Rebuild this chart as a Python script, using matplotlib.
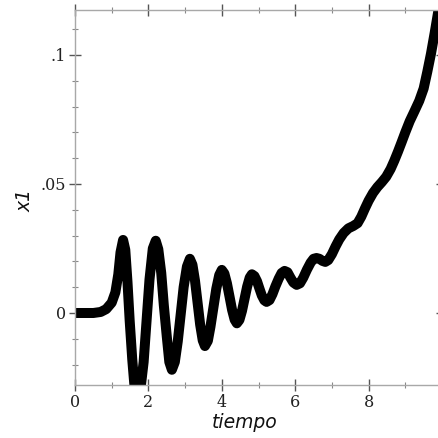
import matplotlib
matplotlib.use("Agg")
import matplotlib.pyplot as plt
from matplotlib.ticker import MultipleLocator

# datos: tiempo vs x1
tiempo = [0.0, 0.5, 0.7, 0.85, 1.0, 1.1, 1.18, 1.24, 1.31, 1.37, 1.43,
          1.49, 1.56, 1.63, 1.7, 1.78, 1.87, 1.95, 2.03, 2.12, 2.2, 2.27,
          2.35, 2.42, 2.5, 2.57, 2.64, 2.72, 2.8, 2.88, 2.96, 3.05, 3.13,
          3.2, 3.27, 3.34, 3.41, 3.48, 3.54, 3.62, 3.69, 3.77, 3.85, 3.93,
          4.0, 4.07, 4.14, 4.21, 4.28, 4.35, 4.41, 4.48, 4.55, 4.62, 4.69,
          4.76, 4.82, 4.89, 4.96, 5.02, 5.09, 5.16, 5.22, 5.3, 5.38, 5.46,
          5.55, 5.63, 5.71, 5.79, 5.87, 5.95, 6.04, 6.13, 6.22, 6.32, 6.42,
          6.5, 6.58, 6.66, 6.74, 6.82, 6.9, 7.0, 7.1, 7.2, 7.32, 7.45, 7.58,
          7.7, 7.8, 7.9, 8.0, 8.12, 8.24, 8.36, 8.48, 8.6, 8.7, 8.8, 8.9,
          9.0, 9.12, 9.25, 9.38, 9.5, 9.6, 9.7, 9.8, 9.9, 10.0]
x1 = [0.0, 0.0, 0.0004, 0.0015, 0.004, 0.008, 0.015, 0.0235, 0.0283,
      0.0245, 0.012, -0.003, -0.018, -0.030, -0.034, -0.030, -0.019,
      -0.003, 0.013, 0.025, 0.028, 0.0247, 0.0155, 0.003, -0.009, -0.019,
      -0.022, -0.019, -0.011, -0.0005, 0.010, 0.018, 0.021, 0.0187, 0.0125,
      0.004, -0.0045, -0.0106, -0.0128, -0.0108, -0.0054, 0.002, 0.0094,
      0.0147, 0.0167, 0.0153, 0.0115, 0.0064, 0.0012, -0.0026, -0.004,
      -0.0027, 0.0008, 0.0055, 0.0102, 0.0137, 0.015, 0.0143, 0.0123,
      0.0097, 0.0068, 0.0049, 0.0043, 0.005, 0.0073, 0.0103, 0.0133,
      0.0155, 0.0163, 0.0158, 0.0137, 0.0118, 0.0109, 0.0115, 0.0137,
      0.0168, 0.0195, 0.021, 0.0213, 0.021, 0.0202, 0.0198, 0.0205, 0.0228,
      0.0258, 0.0285, 0.031, 0.0328, 0.0337, 0.0348, 0.0373, 0.0405,
      0.0435, 0.0465, 0.0488, 0.0507, 0.0528, 0.0558, 0.059, 0.0625, 0.0662,
      0.0700, 0.0743, 0.0782, 0.0822, 0.087, 0.0935, 0.1005, 0.1085, 0.117,
      0.125]

xticks = [0, 2, 4, 6, 8]
yticks = [0, 0.05, 0.1]
ytick_labels = ["0", ".05", ".1"]

W = H = 438
fig = plt.figure(figsize=(W / 100, H / 100), dpi=100)
ax = fig.add_axes([75 / W, 53 / H, 367 / W, 375 / H])

ax.plot(tiempo, x1, color="black", linewidth=7.2,
        solid_joinstyle="round", solid_capstyle="round")

ax.set_xlim(0, 10)
ax.set_ylim(-0.0279, 0.1174)

ax.set_xticks(xticks)
ax.set_yticks(yticks)
ax.set_yticklabels(ytick_labels)
ax.xaxis.set_minor_locator(MultipleLocator(1))
ax.yaxis.set_minor_locator(MultipleLocator(0.01))

for s in ax.spines.values():
    s.set_color("#a8a8a8")
    s.set_linewidth(1.0)

ax.tick_params(which="major", direction="inout", length=9, width=1.0,
               color="#555555", labelsize=11.5, labelcolor="#222222",
               top=True, right=True, pad=2)
ax.tick_params(which="minor", direction="inout", length=5, width=0.8,
               color="#888888", top=True, right=True)
for lab in ax.get_xticklabels() + ax.get_yticklabels():
    lab.set_family("DejaVu Serif")

fig.text(245 / W, 1 - 422 / H, "tiempo", fontsize=13.5, style="italic",
         ha="center", va="center", color="#111111")
fig.text(25 / W, 1 - 200 / H, "x1", fontsize=13.5, style="italic",
         rotation=90, ha="center", va="center", color="#111111")

fig.savefig("out.png", dpi=100)
